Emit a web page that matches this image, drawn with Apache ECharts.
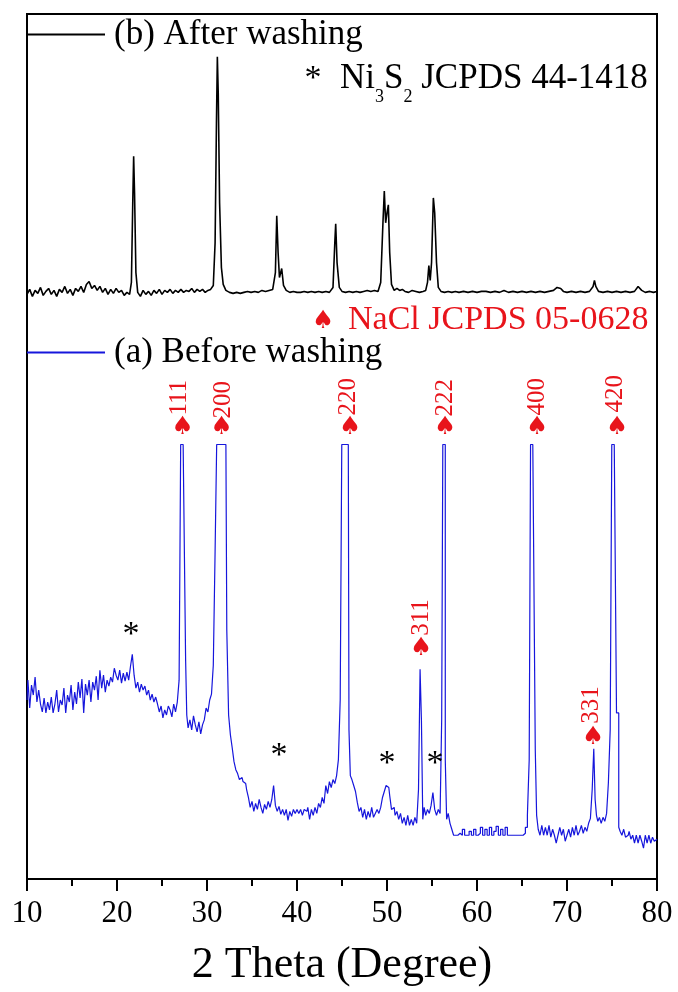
<!DOCTYPE html>
<html><head><meta charset="utf-8">
<script src="https://cdn.jsdelivr.net/npm/echarts@6/dist/echarts.min.js"></script>
<style>html,body{margin:0;padding:0;background:#fff}#c{width:678px;height:992px}</style>
</head><body><div id="c"></div>
<script>
// x: 2 theta (degree), y: intensity (a.u., offset patterns)
const afterWashing = [[10.0,588],[10.3,593],[10.6,586],[10.9,592],[11.2,589],[11.5,595],[11.8,587],[12.1,591],[12.4,594],[12.7,588],[13.0,592],[13.3,586],[13.6,593],[13.9,590],[14.2,596],[14.5,589],[14.8,593],[15.1,587],[15.4,594],[15.7,591],[16.0,596],[16.3,590],[16.6,598],[16.9,601],[17.2,594],[17.5,597],[17.8,592],[18.1,596],[18.4,590],[18.7,594],[19.0,588],[19.3,593],[19.6,589],[19.9,594],[20.2,590],[20.5,592],[20.8,587],[21.1,590],[21.4,588],[21.6,600],[21.75,680],[21.85,727],[21.95,690],[22.1,610],[22.3,590],[22.6,586],[22.9,592],[23.2,588],[23.5,591],[23.8,587],[24.1,592],[24.4,589],[24.7,593],[25.0,588],[25.3,592],[25.6,590],[25.9,593],[26.2,589],[26.5,592],[26.8,590],[27.1,593],[27.4,590],[27.7,592],[28.0,591],[28.3,594],[28.6,590],[28.9,593],[29.2,591],[29.5,593],[29.8,590],[30.1,592],[30.4,593],[30.7,597],[30.9,640],[31.05,760],[31.15,827],[31.25,790],[31.4,680],[31.6,615],[31.8,598],[32.1,592],[32.5,590],[32.9,589],[33.3,590],[33.7,589],[34.1,590],[34.5,591],[34.9,590],[35.3,591],[35.7,590],[36.1,592],[36.5,591],[36.9,592],[37.3,593],[37.6,610],[37.75,667],[37.9,630],[38.05,605],[38.3,614],[38.5,597],[38.8,592],[39.2,590],[39.6,591],[40.0,590],[40.4,590],[40.8,591],[41.2,590],[41.6,591],[42.0,590],[42.4,591],[42.8,590],[43.2,591],[43.6,590],[44.0,595],[44.2,640],[44.3,659],[44.45,620],[44.7,595],[45.0,591],[45.4,590],[45.8,591],[46.2,590],[46.6,591],[47.0,590],[47.4,591],[47.8,592],[48.2,591],[48.6,592],[49.0,591],[49.3,600],[49.55,660],[49.7,692],[49.85,660],[50.0,670],[50.15,678],[50.3,630],[50.5,598],[50.8,592],[51.1,594],[51.4,592],[51.7,593],[52.0,591],[52.4,590],[52.8,592],[53.2,591],[53.6,590],[54.0,591],[54.3,592],[54.5,600],[54.65,617],[54.8,602],[54.95,620],[55.15,685],[55.3,670],[55.5,620],[55.7,595],[56.0,591],[56.4,590],[56.8,591],[57.2,590],[57.6,591],[58.0,590],[58.5,591],[59.0,590],[59.5,591],[60.0,590],[60.5,591],[61.0,591],[61.5,590],[62.0,591],[62.5,590],[63.0,592],[63.5,590],[64.0,591],[64.5,590],[65.0,591],[65.5,590],[66.0,591],[66.5,590],[67.0,591],[67.5,590],[68.0,591],[68.5,592],[68.9,595],[69.1,597],[69.3,594],[69.6,591],[70.0,590],[70.5,591],[71.0,590],[71.5,591],[72.0,590],[72.5,591],[72.9,596],[73.05,602],[73.2,596],[73.5,591],[74.0,590],[74.5,591],[75.0,590],[75.5,591],[76.0,590],[76.5,591],[77.0,590],[77.5,591],[77.9,596],[78.05,598],[78.3,592],[78.7,590],[79.2,591],[79.6,590],[80.0,591]];

const beforeWashing = [[10.0,180],[10.2,200],[10.4,172],[10.6,195],[10.8,185],[11.0,203],[11.2,178],[11.4,190],[11.6,176],[11.8,168],[12.0,182],[12.2,167],[12.4,178],[12.6,170],[12.8,183],[13.0,167],[13.2,176],[13.4,190],[13.6,168],[13.8,180],[14.0,175],[14.2,192],[14.4,167],[14.6,185],[14.8,178],[15.0,195],[15.2,170],[15.4,188],[15.6,176],[15.8,198],[16.0,182],[16.2,201],[16.4,167],[16.6,196],[16.8,185],[17.0,200],[17.2,178],[17.4,198],[17.6,190],[17.8,204],[18.0,180],[18.2,210],[18.4,192],[18.6,205],[18.8,188],[19.0,200],[19.2,194],[19.4,203],[19.6,198],[19.8,212],[20.0,205],[20.2,200],[20.4,210],[20.6,197],[20.8,207],[21.0,199],[21.2,208],[21.4,200],[21.6,214],[21.8,226],[22.0,205],[22.2,192],[22.4,198],[22.6,188],[22.8,196],[23.0,190],[23.2,194],[23.4,185],[23.6,190],[23.8,180],[24.0,186],[24.2,178],[24.4,183],[24.6,176],[24.8,168],[25.0,174],[25.2,162],[25.4,170],[25.6,165],[25.8,174],[26.0,170],[26.2,163],[26.4,176],[26.6,168],[26.8,178],[27.0,200],[27.15,437],[27.55,437],[27.7,220],[27.8,165],[28.0,152],[28.2,160],[28.4,150],[28.6,164],[28.8,155],[29.0,148],[29.2,158],[29.4,146],[29.6,155],[29.8,160],[30.0,172],[30.2,168],[30.4,180],[30.6,186],[30.8,215],[31.0,330],[31.15,437],[32.1,437],[32.3,250],[32.5,165],[32.7,145],[32.9,132],[33.1,118],[33.3,110],[33.5,106],[33.7,100],[33.9,102],[34.1,98],[34.3,96],[34.5,90],[34.7,82],[34.9,72],[35.1,78],[35.3,68],[35.5,76],[35.7,70],[35.9,80],[36.1,72],[36.3,66],[36.5,75],[36.7,70],[36.9,78],[37.1,72],[37.3,80],[37.5,94],[37.7,74],[37.9,68],[38.1,73],[38.3,65],[38.5,70],[38.7,64],[38.9,70],[39.1,59],[39.3,68],[39.5,63],[39.7,70],[39.9,66],[40.1,70],[40.3,66],[40.5,70],[40.7,64],[40.9,70],[41.1,68],[41.3,72],[41.5,60],[41.7,70],[41.9,64],[42.1,72],[42.3,66],[42.5,76],[42.7,72],[42.9,82],[43.1,76],[43.3,94],[43.5,86],[43.7,98],[43.9,92],[44.1,100],[44.3,96],[44.5,104],[44.7,120],[44.9,180],[45.05,437],[45.7,437],[45.85,150],[46.0,104],[46.2,100],[46.4,94],[46.6,88],[46.8,77],[47.0,68],[47.2,72],[47.4,62],[47.6,70],[47.8,60],[48.0,68],[48.2,62],[48.4,72],[48.6,62],[48.8,66],[49.0,70],[49.2,66],[49.4,72],[49.6,82],[49.8,88],[50.0,94],[50.2,92],[50.4,84],[50.6,70],[50.8,72],[51.0,64],[51.2,68],[51.4,60],[51.6,66],[51.8,56],[52.0,62],[52.2,54],[52.4,64],[52.6,54],[52.8,60],[53.0,54],[53.2,62],[53.4,56],[53.6,90],[53.75,211],[53.9,160],[54.05,60],[54.2,72],[54.4,64],[54.6,70],[54.8,66],[55.0,74],[55.2,87],[55.4,70],[55.6,64],[55.8,70],[56.0,66],[56.15,160],[56.25,437],[56.4,437],[56.55,120],[56.7,60],[56.9,66],[57.1,56],[57.3,50],[57.5,44],[57.75,44],[58.0,46],[58.25,44],[58.5,50],[58.75,44],[59.0,44],[59.25,48],[59.5,44],[59.75,50],[60.0,44],[60.25,46],[60.5,52],[60.75,44],[61.0,50],[61.25,44],[61.5,52],[61.75,44],[62.0,48],[62.25,53],[62.5,44],[62.75,50],[63.0,44],[63.25,52],[63.5,44],[63.75,44],[64.0,44],[64.25,44],[64.5,44],[64.75,44],[65.0,44],[65.25,46],[65.5,52],[65.7,64],[65.9,120],[66.0,437],[66.4,437],[66.55,130],[66.7,64],[66.9,50],[67.1,44],[67.3,54],[67.5,44],[67.7,52],[67.9,44],[68.1,54],[68.3,42],[68.5,50],[68.7,44],[68.9,36],[69.1,44],[69.3,52],[69.5,44],[69.7,50],[69.9,38],[70.1,44],[70.3,50],[70.5,42],[70.7,52],[70.9,44],[71.1,54],[71.3,44],[71.5,48],[71.7,54],[71.9,46],[72.1,52],[72.3,48],[72.5,56],[72.7,61],[72.9,90],[73.05,131],[73.2,80],[73.35,64],[73.5,58],[73.7,62],[73.9,56],[74.1,62],[74.3,58],[74.5,66],[74.7,97],[74.9,150],[75.05,437],[75.45,437],[75.55,167],[75.7,167],[75.8,52],[76.0,48],[76.2,44],[76.4,50],[76.6,42],[76.8,44],[77.0,48],[77.2,40],[77.4,44],[77.6,36],[77.8,44],[78.0,36],[78.2,44],[78.4,38],[78.6,31],[78.8,44],[79.0,36],[79.2,44],[79.4,36],[79.6,42],[79.8,38],[80.0,40]];

const xTickLabels = [10, 20, 30, 40, 50, 60, 70, 80];
const seriesNames = ['(b) After washing', '(a) Before washing'];
// NaCl reflection markers (spade) and hkl indices
const naclSpades = [[27.28,454],[31.61,454],[45.89,454],[56.44,454],[66.67,454],[75.56,454],[53.78,232],[72.89,142],[42.89,561]];
const naclHkl = [[26.89,484,'111'],[31.78,482,'200'],[45.67,485,'220'],[56.44,484,'222'],[66.67,485,'400'],[75.33,488,'420'],[53.78,263,'311'],[72.67,175,'331']];
// Ni3S2 reflection markers (asterisks)
const ni3s2Stars = [[21.56,245],[38.0,124],[50.0,116],[55.33,116],[41.78,805]];
const captions = [[44.78,822,'ni3s2'],[45.67,562,'nacl']];

const FONT = '"Liberation Serif", "Times New Roman", serif';
const RED = '#e8141b';
const BLUE = '#1616dc';
const annotationBase = {type: 'scatter', silent: true, symbolSize: 0, z: 5, itemStyle: {opacity: 1}};
const legendBase = {left: 27, padding: 0, itemWidth: 78, itemHeight: 2, icon: 'rect', selectedMode: false,
  textStyle: {fontFamily: FONT, fontSize: 35, lineHeight: 34, color: '#000', padding: [0,0,0,4]}};
const chart = echarts.init(document.getElementById('c'));
chart.setOption({
  backgroundColor: '#fff',
  animation: false,
  grid: {left: 27, right: 21, top: 14, bottom: 108, show: true, borderColor: '#000', borderWidth: 2},
  legend: [
    Object.assign({data: [seriesNames[0]], top: 17}, legendBase),
    Object.assign({data: [seriesNames[1]], top: 335}, legendBase)
  ],
  xAxis: {
    type: 'value', min: xTickLabels[0], max: xTickLabels[xTickLabels.length-1], interval: 10,
    axisLine: {show: true, lineStyle: {color: '#000', width: 2}},
    axisTick: {show: true, inside: false, length: 12, lineStyle: {color: '#000', width: 2}},
    minorTick: {show: true, splitNumber: 2, length: 7, lineStyle: {color: '#000', width: 2}},
    axisLabel: {fontFamily: FONT, fontSize: 31, color: '#000', margin: 19},
    splitLine: {show: false},
    name: '2 Theta (Degree)', nameLocation: 'middle', nameGap: 64,
    nameTextStyle: {fontFamily: FONT, fontSize: 44, color: '#000'}
  },
  yAxis: {type: 'value', min: 0, max: 870, show: false},
  series: [
    {name: seriesNames[0], type: 'line', data: afterWashing, symbol: 'none', color: '#000',
     itemStyle: {color: '#000'}, lineStyle: {color: '#000', width: 1.6}, z: 3},
    {name: seriesNames[1], type: 'line', data: beforeWashing, symbol: 'none', step: 'middle', color: BLUE,
     itemStyle: {color: BLUE}, lineStyle: {color: BLUE, width: 1.2}, z: 3},
    Object.assign({}, annotationBase, {data: naclSpades,
     label: {show: true, position: 'inside', formatter: '\u2660', color: RED, fontSize: 25,
       fontFamily: '"DejaVu Sans"', align: 'center', verticalAlign: 'middle'}}),
    Object.assign({}, annotationBase, {
     data: naclHkl.map(d => ({value: [d[0], d[1]], name: d[2]})),
     label: {show: true, position: 'inside', formatter: p => p.name, rotate: 90, color: RED, fontSize: 25,
       fontFamily: FONT, align: 'center', verticalAlign: 'middle'}}),
    Object.assign({}, annotationBase, {data: ni3s2Stars,
     label: {show: true, position: 'inside', formatter: '*', color: '#000', fontSize: 34,
       fontFamily: FONT, align: 'center', verticalAlign: 'middle'}}),
    Object.assign({}, annotationBase, {
     data: captions.map(d => ({value: [d[0], d[1]], name: d[2]})),
     label: {show: true, position: [0, 0], align: 'left', verticalAlign: 'top',
       formatter: p => p.name === 'ni3s2' ? '{a|Ni}{s|3}{a|S}{s|2}{a| JCPDS 44-1418}' : '{r|NaCl JCPDS 05-0628}',
       rich: {
         a: {fontFamily: FONT, fontSize: 35, lineHeight: 36, color: '#000', verticalAlign: 'top'},
         s: {fontFamily: FONT, fontSize: 18, lineHeight: 18, color: '#000', verticalAlign: 'top', padding: [27,0,0,0]},
         r: {fontFamily: FONT, fontSize: 34, lineHeight: 36, color: RED, verticalAlign: 'middle', padding: [-36,0,0,0]}
       }}})
  ]
});
</script>
</body></html>
